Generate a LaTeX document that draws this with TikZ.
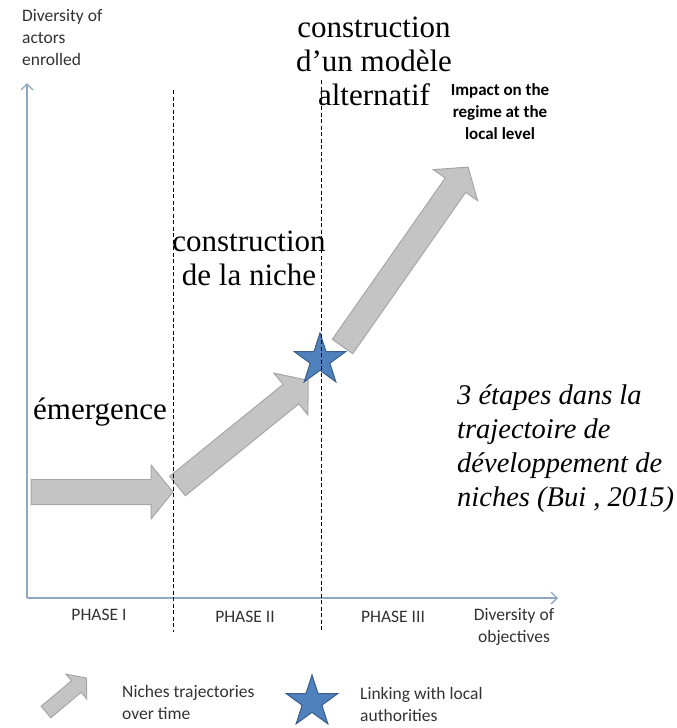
\documentclass[tikz,border=0pt]{standalone}
\usepackage{fontspec}
\setmainfont{Liberation Serif}
\setsansfont{Carlito}
\usepackage{xcolor}
\usetikzlibrary{shapes.geometric,arrows.meta}

\definecolor{axisblue}{RGB}{141,167,196}
\definecolor{arrowgray}{RGB}{196,196,196}
\definecolor{arrowedge}{RGB}{166,166,166}
\definecolor{starblue}{RGB}{79,129,189}
\definecolor{staredge}{RGB}{56,93,138}
\definecolor{labelgray}{RGB}{50,50,50}

% #1 extra options, #2 tail, #3 angle, #4 length
\newcommand{\nichearrow}[4][]{%
  \begin{scope}[shift={#2},rotate=#3,#1]
    \draw[niche] (0,-12.5) -- (#4-22,-12.5) -- (#4-22,-27) -- (#4,0)
      -- (#4-22,27) -- (#4-22,12.5) -- (0,12.5) -- cycle;
  \end{scope}}

\begin{document}
\begin{tikzpicture}[x=1pt,y=-1pt]
\useasboundingbox (0,0) rectangle (677,728);

\tikzstyle{niche}=[fill=arrowgray,draw=arrowedge,line width=1pt,line join=miter]
\tikzstyle{milestone}=[star,star points=5,star point ratio=2.618,minimum size=54pt,
  inner sep=0pt,fill=starblue,draw=staredge,line width=1pt]
\tikzstyle{axis}=[draw=axisblue,line width=1.3pt,-{Straight Barb[length=6pt,width=12pt]}]
\tikzstyle{phaseline}=[line width=0.9pt,dash pattern=on 4pt off 2.5pt]
\tikzstyle{big}=[font=\fontsize{31}{34}\selectfont,inner sep=0pt,align=center]
\tikzstyle{small}=[font=\sffamily\fontsize{17.5}{22}\selectfont,text=labelgray,inner sep=0pt]

%% axes
\coordinate (origin) at (27,598);
\coordinate (ytop) at (27,83);
\coordinate (xend) at (558,598);
\draw[axis] (origin) -- (ytop);
\draw[axis] (origin) -- (xend);

%% niche trajectory
\nichearrow{(31,492)}{0}{142}
\nichearrow{(177.5,486)}{39}{168}
\nichearrow{(342.5,346.5)}{55}{219}
\node[milestone] (link) at (320,360) {};

%% phase limits
\coordinate (p1top) at (173,90);
\coordinate (p1bot) at (173,632);
\coordinate (p2top) at (321,80);
\coordinate (p2bot) at (321,630);
\draw[phaseline] (p1top) -- (p1bot);
\draw[phaseline] (p2top) -- (p2bot);

%% labels
\node[small,align=left,anchor=west] (yname) at (22,37.5) {Diversity of\\actors\\enrolled};
\node[small,align=center] (xname) at (514,627) {Diversity of\\objectives};
\node[small] (ph1) at (99,615) {PHASE I};
\node[small] (ph2) at (245,617) {PHASE II};
\node[small] (ph3) at (393,617) {PHASE III};
\node[small,font=\sffamily\bfseries\fontsize{17}{22}\selectfont,text=black,align=center] (impact)
  at (500,112) {Impact on the\\regime at the\\local level};

\node[big] (alt) at (374,61) {construction\\d’un modèle\\alternatif};
\node[big] (nich) at (249,258) {construction\\de la niche};
\node[big] (emer) at (100,412) {émergence};
\node[big,align=left,anchor=west,font=\itshape\fontsize{28.5}{34}\selectfont] (caption)
  at (457,449) {3 étapes dans la\\trajectoire de\\développement de\\niches (Bui , 2015)};

%% legend
\nichearrow[scale=0.6]{(46,712)}{40}{88}
\node[small,align=left,anchor=west] (legtraj) at (122,702.5) {Niches trajectories\\over time};
\node[milestone] (legstar) at (312,702) {};
\node[small,align=left,anchor=west] (leglink) at (360,704) {Linking with local\\authorities};
\end{tikzpicture}
\end{document}
